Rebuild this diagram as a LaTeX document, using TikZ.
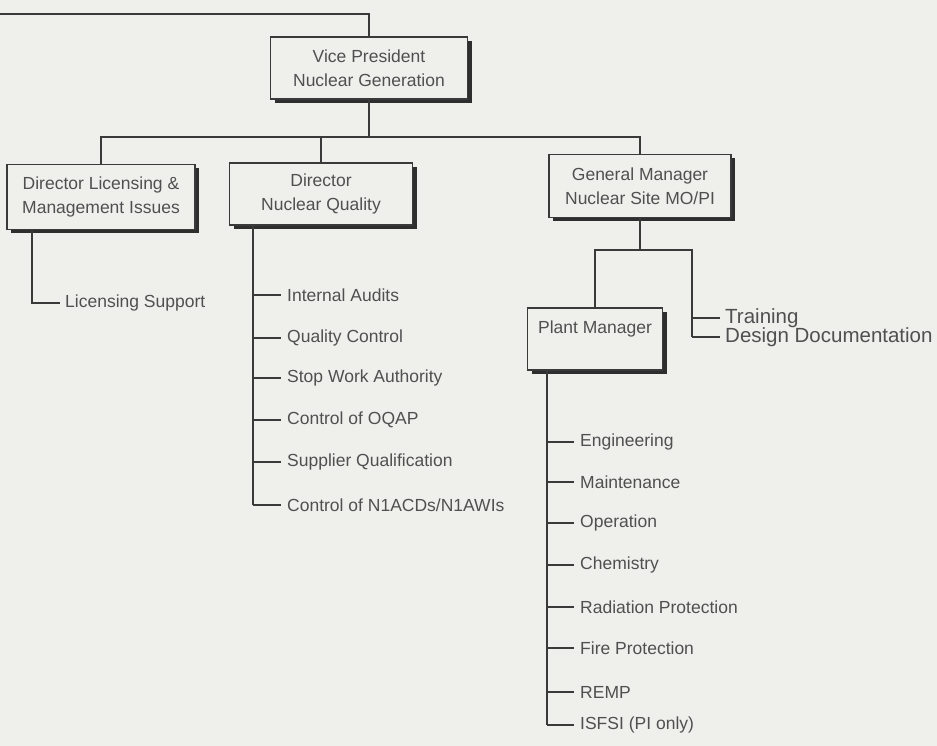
\documentclass[tikz,border=0pt]{standalone}
\usepackage{fontspec}
\setmainfont{Liberation Sans}
\usetikzlibrary{shadows}
\definecolor{bg}{HTML}{EFEFEC}
\definecolor{ink}{HTML}{3A3A3A}
\definecolor{txt}{HTML}{505050}
\begin{document}
\begin{tikzpicture}[x=1pt,y=-1pt,
  box/.style={draw=ink, line width=1.3pt, fill=bg, align=center, text=txt,
    font=\fontsize{17.5}{24}\selectfont, inner sep=0pt,
    general shadow={fill=ink!80!black, shadow xshift=4pt, shadow yshift=-4pt}},
  item/.style={anchor=west, text=txt, font=\fontsize{17.5}{21}\selectfont, inner sep=0pt},
  bigitem/.style={item, font=\fontsize{20.5}{24}\selectfont},
  conn/.style={draw=ink, line width=1.2pt}]
\fill[bg] (0,0) rectangle (937,746);
\useasboundingbox (0,0) rectangle (937,746);

% boxes
\node[box, minimum width=197pt, minimum height=62pt] (vp) at (369,68) {Vice President\\Nuclear Generation};
\node[box, minimum width=188pt, minimum height=65pt] (dl) at (101,197) {Director Licensing \&\\Management Issues};
\node[box, minimum width=183pt, minimum height=62pt] (dnq) at (321,194) {Director\\Nuclear Quality};
\node[box, minimum width=182pt, minimum height=63pt] (gm) at (640,186) {General Manager\\Nuclear Site MO/PI};
\node[box, minimum width=135pt, minimum height=62pt] (pm) at (595,339) {Plant Manager\\\mbox{}};

% top line into VP
\coordinate (tl) at (0,14);
\draw[conn] (tl) -- (tl -| vp.north) -- (vp.north);

% VP bus
\coordinate (bus) at (369,137);
\draw[conn] (vp.south) -- (bus);
\draw[conn] (dl.north) -- (dl.north |- bus) -- (gm.north |- bus) -- (gm.north);
\draw[conn] (dnq.north |- bus) -- (dnq.north);

% Director Licensing
\node[item] (ls) at (65,303) {Licensing Support};
\draw[conn] (dl.south -| 32,0) -- (32,303) -- ([xshift=-5pt]ls.west);

% Director Nuclear Quality
\foreach \n/\yy/\t in {q1/295/{Internal Audits}, q2/338/{Quality Control}, q3/378/{Stop Work Authority},
  q4/420/{Control of OQAP}, q5/462/{Supplier Qualification}, q6/505/{Control of N1ACDs/N1AWIs}}{
  \node[item] (\n) at (287,\yy) {\t};
  \draw[conn] (253,\yy) -- ([xshift=-6pt]\n.west);
}
\draw[conn] (dnq.south -| 253,0) -- (253,505);

% General Manager
\coordinate (gbus) at (640,250);
\draw[conn] (gm.south) -- (gbus);
\draw[conn] (pm.north) -- (pm.north |- gbus) -- (692,250) -- (692,337);
\node[bigitem] (tr) at (725,318) {Training};
\node[bigitem] (dd) at (725,337) {Design Documentation};
\draw[conn] (692,318) -- ([xshift=-5pt]tr.west);
\draw[conn] (692,337) -- ([xshift=-5pt]dd.west);

% Plant Manager
\foreach \n/\yy/\t in {p1/442/{Engineering}, p2/482/{Maintenance}, p3/523/{Operation}, p4/565/{Chemistry},
  p5/607/{Radiation Protection}, p6/648/{Fire Protection}, p7/692/{REMP}, p8/725/{ISFSI (PI only)}}{
  \node[item] (\n) at (580,\yy) {\t};
  \draw[conn] (547,\yy) -- ([xshift=-6pt]\n.west);
}
\draw[conn] (pm.south -| 547,0) -- (547,725);
\end{tikzpicture}
\end{document}
